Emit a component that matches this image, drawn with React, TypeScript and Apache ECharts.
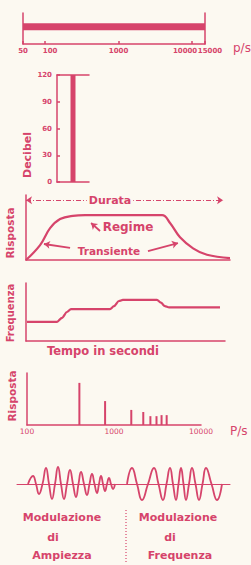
import React, { useEffect, useRef } from 'react';
import * as echarts from 'echarts';

const RED = '#d6446b';
const BG = '#fcf9f1';
const FONT = 'DejaVu Sans';

// Panel 1 – audible range (p/s), log scale
const audibleRange = [50, 15000];
const rangeLevel = 5.6;

// Panel 2 – decibel column
const dbCategories = [''];
const dbValues = [120];

// Panel 3 – response envelope (time %, response %)
const envTime = [0, 6.9, 11.8, 16.7, 23, 29, 66.7, 70.6, 75.5, 81.9, 88.7, 100];
const envResp = [0, 23, 49, 63, 68, 69, 69, 57, 35, 18, 8, 3];

// Panel 4 – frequency vs time
const fTime = [0.5, 15.6, 18.1, 20.6, 22.6, 42.2, 44.2, 46.7, 48.7, 65.8, 67.8, 69.8, 71.9, 97.5];
const fFreq = [33, 33, 40, 50, 55, 55, 60, 69, 71, 71, 66, 60, 58, 58];

// Panel 5 – spectrum lines (p/s, response)
const harmFreq = [400, 790, 1580, 2170, 2620, 3080, 3520, 4030];
const harmAmp = [81, 46, 29, 25, 17, 17, 19, 19];

// Panel 6 – modulated waves (time units, amplitude)
const amTime = [11, 16, 19, 22, 25.5, 29, 32, 35, 38, 41, 44, 47, 50, 53, 56, 59, 61.5, 64, 67, 70, 72.5, 75, 77.5, 80, 82, 84, 86, 88, 90, 92, 94, 96, 98];
const amVal = [0, 8, 0, -10, 0, 16, 0, -15, 0, 17, 0, -15, 0, 14, 0, -13, 0, 12, 0, -11, 0, 10, 0, -9, 0, 8, 0, -7, 0, 6, 0, -5, 0];
const fmTime = [110, 115, 120, 125, 131, 137, 141.5, 146, 149.5, 153, 156, 159, 161.5, 164, 166.5, 169, 172, 175, 178.5, 182, 185.5, 189, 194.5, 200, 205];
const fmVal = [0, 16, 0, -16, 0, 16, 0, -16, 0, 16, 0, -16, 0, 16, 0, -16, 0, 16, 0, -16, 0, 16, 0, -16, 0];

const line = { color: RED, width: 1.5 };
const noSplit = { show: false };

function rotText(text: string, x: number, y: number, size: number) {
  return {
    type: 'text', x, y, rotation: Math.PI / 2, z: 100,
    style: { text, fill: RED, fontFamily: FONT, fontSize: size, fontWeight: 'bold', align: 'center', verticalAlign: 'middle', textAlign: 'center', textVerticalAlign: 'middle' },
  };
}
function txt(text: string, x: number, y: number, size: number, opts: any = {}) {
  return {
    type: 'text', x, y, z: 100,
    style: { text, fill: RED, fontFamily: FONT, fontSize: size, fontWeight: opts.normal ? 'normal' : 'bold', align: opts.align || 'center', verticalAlign: 'middle', textAlign: opts.align || 'center', textVerticalAlign: 'middle', backgroundColor: opts.bg, padding: opts.bg ? [0, 2] : 0 },
  };
}

export default function App() {
  const ref = useRef<HTMLDivElement>(null);
  useEffect(() => {
    if (!ref.current) return;
    const chart = echarts.init(ref.current, undefined, { renderer: 'svg' });
    const labelBase = { fontSize: 7, color: RED, fontFamily: FONT, fontWeight: 'bold' as const };
    const option: any = {
      animation: false,
      backgroundColor: BG,
      grid: [
        { left: 23, top: 13, width: 182, height: 31 },
        { left: 57, top: 75, width: 32, height: 107 },
        { left: 26, top: 195, width: 204, height: 65 },
        { left: 26, top: 283, width: 199, height: 58 },
        { left: 27, top: 373, width: 174, height: 52 },
        { left: 17, top: 464, width: 213, height: 40 },
      ],
      xAxis: [
        {
          type: 'log', gridIndex: 0, min: audibleRange[0], max: audibleRange[1], logBase: 10,
          axisLine: { lineStyle: line }, axisTick: { show: true, inside: true, length: 3, lineStyle: line },
          splitLine: noSplit,
          axisLabel: {
            ...labelBase, margin: 3, showMinLabel: true, showMaxLabel: true,
            formatter: (v: number) => {
              const r = Math.round(v);
              if (r === 10000) return '{a|' + r + '}';
              if (r === 15000) return '{b|' + r + '}';
              if (r === 100) return '{b|' + r + '}';
              return '{c|' + r + '}';
            },
            rich: { a: { ...labelBase, padding: [0, 14, 0, 0] }, b: { ...labelBase, padding: [0, 0, 0, 10] }, c: { ...labelBase } },
          },
        },
        { type: 'category', gridIndex: 1, data: dbCategories, axisLine: { lineStyle: line }, axisTick: { show: false }, axisLabel: { show: false } },
        { type: 'category', gridIndex: 1, position: 'top', data: dbCategories, axisLine: { lineStyle: line }, axisTick: { show: false }, axisLabel: { show: false } },
        { type: 'value', gridIndex: 2, min: 0, max: 100, axisLine: { lineStyle: line }, axisTick: { show: false }, axisLabel: { show: false }, splitLine: noSplit },
        { type: 'value', gridIndex: 3, min: 0, max: 100, axisLine: { lineStyle: line }, axisTick: { show: false }, axisLabel: { show: false }, splitLine: noSplit },
        {
          type: 'log', gridIndex: 4, min: 100, max: 10000, logBase: 10,
          axisLine: { lineStyle: line }, axisTick: { show: false }, splitLine: noSplit,
          axisLabel: { fontSize: 7.5, color: RED, fontFamily: FONT, margin: 2, showMinLabel: true, showMaxLabel: true, formatter: (v: number) => String(Math.round(v)) },
        },
        { type: 'value', gridIndex: 5, min: 0, max: 213, axisLine: { onZero: true, lineStyle: { color: RED, width: 1 } }, axisTick: { show: false }, axisLabel: { show: false }, splitLine: noSplit },
      ],
      yAxis: [
        { type: 'value', gridIndex: 0, min: 0, max: 10, axisLine: { show: true, lineStyle: line }, axisTick: { show: false }, axisLabel: { show: false }, splitLine: noSplit },
        { type: 'value', gridIndex: 0, min: 0, max: 10, position: 'right', axisLine: { show: true, lineStyle: line }, axisTick: { show: false }, axisLabel: { show: false }, splitLine: noSplit },
        {
          type: 'value', gridIndex: 1, min: 0, max: 120, interval: 30,
          axisLine: { show: true, lineStyle: line }, axisTick: { show: true, inside: true, length: 3, lineStyle: line },
          axisLabel: { ...labelBase, margin: 5 }, splitLine: noSplit,
        },
        { type: 'value', gridIndex: 2, min: 0, max: 100, axisLine: { show: true, lineStyle: line }, axisTick: { show: false }, axisLabel: { show: false }, splitLine: noSplit },
        { type: 'value', gridIndex: 3, min: 0, max: 100, axisLine: { show: true, lineStyle: line }, axisTick: { show: false }, axisLabel: { show: false }, splitLine: noSplit },
        { type: 'value', gridIndex: 4, min: 0, max: 100, axisLine: { show: true, lineStyle: line }, axisTick: { show: false }, axisLabel: { show: false }, splitLine: noSplit },
        { type: 'value', gridIndex: 5, min: -20, max: 20, axisLine: { show: false }, axisTick: { show: false }, axisLabel: { show: false }, splitLine: noSplit },
      ],
      series: [
        {
          type: 'line', xAxisIndex: 0, yAxisIndex: 0, data: audibleRange.map((v) => [v, rangeLevel]),
          showSymbol: false, symbol: 'none', lineStyle: { color: RED, width: 7 }, silent: true,
        },
        {
          type: 'bar', xAxisIndex: 1, yAxisIndex: 2, data: dbValues, barWidth: 5,
          itemStyle: { color: RED }, silent: true,
        },
        {
          type: 'line', xAxisIndex: 3, yAxisIndex: 3, data: envTime.map((t, i) => [t, envResp[i]]),
          smooth: 0.4, symbol: 'none', lineStyle: { color: RED, width: 2.2 }, clip: false, silent: true,
          markLine: {
            silent: true, symbolSize: 6, label: { show: false },
            lineStyle: { color: RED, type: 'solid', width: 1.8 },
            data: [
              [{ coord: [0, 92], symbol: 'arrow', lineStyle: { color: RED, type: [5, 2, 1, 2], width: 1 } }, { coord: [96.6, 92], symbol: 'arrow' }],
              [{ coord: [96.6, 118], symbol: 'none', lineStyle: { color: RED, type: 'solid', width: 1.5 } }, { coord: [96.6, 26], symbol: 'none' }],
              [{ coord: [21.6, 18.5], symbol: 'none', lineStyle: { color: RED, type: 'solid', width: 1.8 } }, { coord: [8.8, 24.6], symbol: 'arrow' }],
              [{ coord: [59.8, 13.8], symbol: 'none', lineStyle: { color: RED, type: 'solid', width: 1.8 } }, { coord: [74.5, 26], symbol: 'arrow' }],
              [{ coord: [36.3, 44.6], symbol: 'none', lineStyle: { color: RED, type: 'solid', width: 1.8 } }, { coord: [31.9, 56.9], symbol: 'arrow' }],
            ],
          },
        },
        {
          type: 'line', xAxisIndex: 4, yAxisIndex: 4, data: fTime.map((t, i) => [t, fFreq[i]]),
          smooth: 0.3, smoothMonotone: 'x', symbol: 'none', lineStyle: { color: RED, width: 2.2 }, silent: true,
        },
        {
          type: 'custom', xAxisIndex: 5, yAxisIndex: 5, data: harmFreq.map((f, i) => [f, harmAmp[i]]),
          encode: { x: 0, y: 1 }, silent: true,
          renderItem: (params: any, api: any) => {
            const base = api.coord([api.value(0), 0]);
            const top = api.coord([api.value(0), api.value(1)]);
            return { type: 'rect', shape: { x: base[0] - 1, y: top[1], width: 2, height: base[1] - top[1] }, style: { fill: RED } };
          },
        },
        {
          type: 'line', xAxisIndex: 6, yAxisIndex: 6, data: amTime.map((t, i) => [t, amVal[i]]),
          smooth: 0.5, symbol: 'none', lineStyle: { color: RED, width: 1.8 }, silent: true,
        },
        {
          type: 'line', xAxisIndex: 6, yAxisIndex: 6, data: fmTime.map((t, i) => [t, fmVal[i]]),
          smooth: 0.5, symbol: 'none', lineStyle: { color: RED, width: 1.8 }, silent: true,
        },
      ],
      graphic: [
        txt('p/s', 233, 48, 12, { align: 'left', normal: true }),
        rotText('Decibel', 27, 155, 11),
        rotText('Risposta', 10, 233, 10.5),
        txt('Durata', 110, 200, 11, { bg: BG }),
        txt('Regime', 128, 227, 12),
        txt('Transiente', 109, 251, 10.5, { bg: BG }),
        rotText('Frequenza', 10, 313, 10),
        txt('Tempo in secondi', 103, 351, 11.5),
        rotText('Risposta', 12, 396, 10.5),
        txt('P/s', 230, 431, 12, { align: 'left', normal: true }),
        txt('Modulazione', 62, 517, 11),
        txt('di', 53, 537, 11),
        txt('Ampiezza', 62, 555, 11),
        txt('Modulazione', 178, 517, 11),
        txt('di', 170, 537, 11),
        txt('Frequenza', 180, 555, 11),
        {
          type: 'line', z: 100, shape: { x1: 126, y1: 510, x2: 126, y2: 562 },
          style: { stroke: RED, lineWidth: 1.2, lineDash: [1, 2] },
        },
      ],
    };
    chart.setOption(option);
    return () => chart.dispose();
  }, []);
  return <div ref={ref} style={{ position: 'absolute', left: 0, top: 0, width: '251px', height: '565px' }} />;
}
